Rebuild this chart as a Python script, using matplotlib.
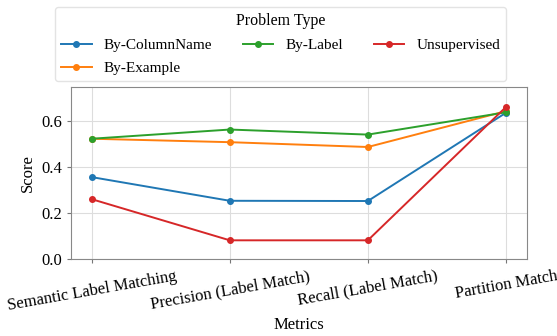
import numpy as np
import matplotlib.pyplot as plt

metrics = ['Semantic Label Matching', 'Precision (Label Match)', 'Recall (Label Match)', 'Partition Match']
problem_types = ['By-ColumnName', 'By-Example', 'By-Label', 'Unsupervised']
by_columnname = [0.358, 0.255, 0.254, 0.638]
by_example = [0.525, 0.510, 0.489, 0.645]
by_label = [0.525, 0.565, 0.543, 0.640]
unsupervised = [0.262, 0.083, 0.083, 0.663]
colors = ['#1f77b4', '#ff7f0e', '#2ca02c', '#d62728']

plt.rcParams['font.family'] = ['Liberation Serif', 'DejaVu Serif']

fig = plt.figure(figsize=(5.57, 3.36), dpi=100)
ax = fig.add_axes([0.1275, 0.228, 0.818, 0.513])

series = [by_columnname, by_example, by_label, unsupervised]
x = np.arange(len(metrics))
for name, vals, c in zip(problem_types, series, colors):
    ax.plot(x, vals, marker='o', markersize=4, linewidth=1.4, color=c, label=name)

ax.set_ylim(0, 0.75)
ax.set_yticks([0.0, 0.2, 0.4, 0.6])
ax.set_xticks(x)
ax.set_xticklabels(metrics, rotation=10, ha='center', fontsize=12)
ax.tick_params(axis='y', labelsize=12)
ax.tick_params(colors='#777777', labelcolor='black', length=3)
ax.set_xlabel('Metrics', fontsize=12, labelpad=2)
ax.set_ylabel('Score', fontsize=12)
ax.grid(True, color='#dddddd', linewidth=0.8)
ax.set_axisbelow(True)
for s in ax.spines.values():
    s.set_color('#888888')

leg = ax.legend(title='Problem Type', ncol=3, fontsize=11, title_fontsize=11.5,
                loc='lower center', bbox_to_anchor=(0.46, 1.035), frameon=True,
                labelspacing=0.6, borderpad=0.4, borderaxespad=0)
leg.get_frame().set_edgecolor('#dddddd')

fig.savefig('out.png', dpi=100)
